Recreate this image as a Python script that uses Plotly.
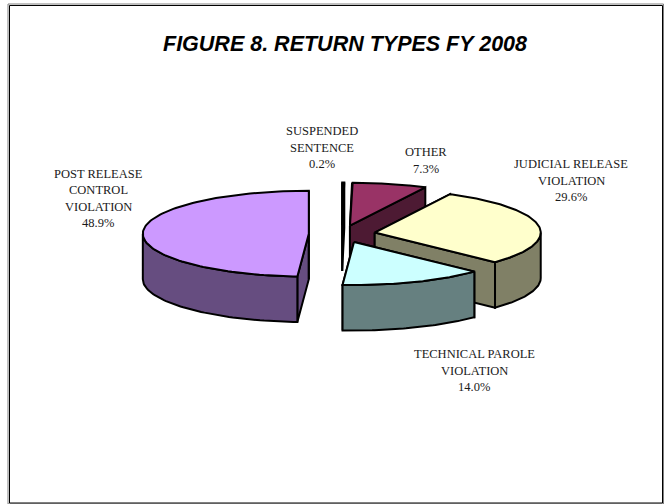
import numpy as np
import plotly.graph_objects as go

# values in clockwise order starting from 12 o'clock
categories = ["SUSPENDED SENTENCE", "OTHER", "JUDICIAL RELEASE VIOLATION",
              "TECHNICAL PAROLE VIOLATION", "POST RELEASE CONTROL VIOLATION"]
percents = [0.2, 7.3, 29.6, 14.0, 48.9]
label_lines = [["SUSPENDED", "SENTENCE"], ["OTHER"], ["JUDICIAL RELEASE", "VIOLATION"],
               ["TECHNICAL PAROLE", "VIOLATION"], ["POST RELEASE", "CONTROL", "VIOLATION"]]
top_colors = ["#000080", "#993366", "#FFFFCC", "#CCFFFF", "#CC99FF"]
wall_colors = ["#000040", "#4D1A33", "#808066", "#668080", "#664D80"]
label_centers = [(322, 131), (425.5, 152), (571, 164), (474, 354), (98, 173.5)]

# pie geometry in page pixels
CX, CY = 342, 234
RX, RY = 166, 43
DEPTH = 45.5
EXPLODE = 0.2
LINE_STEP = 16.5

fig = go.Figure()


def rim(apex, deg, drop=0):
    t = np.radians(deg)
    return apex[0] + RX * np.sin(t), apex[1] - RY * np.cos(t) + drop


def add_poly(xs, ys, color):
    fig.add_trace(go.Scatter(x=xs, y=ys, mode="lines", fill="toself", fillcolor=color,
                             line=dict(color="black", width=2), hoverinfo="skip"))


def add_cut_wall(apex, deg, color):
    px, py = rim(apex, deg)
    add_poly([apex[0], px, px, apex[0], apex[0]],
             [apex[1], py, py + DEPTH, apex[1] + DEPTH, apex[1]], color)


bounds = np.cumsum([0] + percents) / sum(percents) * 360
for i, name in enumerate(categories):
    a0, a1 = bounds[i], bounds[i + 1]
    mid = np.radians((a0 + a1) / 2)
    apex = (CX + EXPLODE * RX * np.sin(mid), CY - EXPLODE * RY * np.cos(mid))

    add_cut_wall(apex, a0, wall_colors[i])
    add_cut_wall(apex, a1, wall_colors[i])

    # outer wall only where the rim faces the viewer
    w0, w1 = max(a0, 90), min(a1, 270)
    if w1 > w0:
        th = np.linspace(w0, w1, 60)
        x, y = rim(apex, th)
        add_poly(list(x) + list(x[::-1]) + [x[0]],
                 list(y) + list(y[::-1] + DEPTH) + [y[0]], wall_colors[i])

    th = np.linspace(a0, a1, 120)
    x, y = rim(apex, th)
    add_poly([apex[0]] + list(x) + [apex[0]], [apex[1]] + list(y) + [apex[1]], top_colors[i])

    # label, one annotation per line to hold the line spacing
    lx, ly = label_centers[i]
    for j, line in enumerate(label_lines[i] + [f"{percents[i]:.1f}%"]):
        fig.add_annotation(x=lx, y=ly + j * LINE_STEP, text=line, showarrow=False,
                           xanchor="center", yanchor="middle",
                           font=dict(family="Liberation Serif", size=12.5, color="#1a1a1a"))

fig.add_annotation(x=344.5, y=44, text="<b><i>FIGURE 8. RETURN TYPES FY 2008</i></b>",
                   showarrow=False, xanchor="center", yanchor="middle",
                   font=dict(family="Liberation Sans", size=21.5, color="black"))

# chart frame
fig.add_shape(type="rect", x0=8, x1=663.5, y0=4, y1=504, line=dict(color="#808080", width=1))
fig.add_shape(type="rect", x0=9.5, x1=662.5, y0=5.5, y1=503, line=dict(color="black", width=1))

fig.update_layout(width=665, height=504, margin=dict(l=0, r=0, t=0, b=0),
                  paper_bgcolor="white", plot_bgcolor="white", showlegend=False,
                  xaxis=dict(range=[0, 665], visible=False),
                  yaxis=dict(range=[504, 0], visible=False))

fig.write_html("out.html", config=dict(displayModeBar=False),
               post_script="document.body.style.margin='0';document.body.style.overflow='hidden';")
